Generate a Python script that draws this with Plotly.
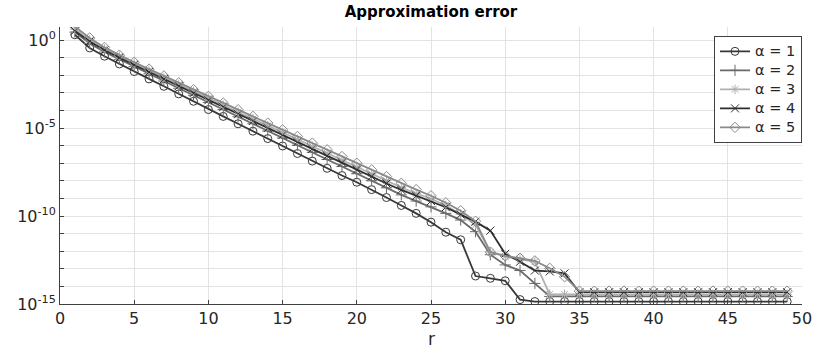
import plotly.graph_objects as go

# Truncation rank r
r = list(range(1, 50))

# log10 of the approximation error for each alpha
log10_err_a1 = [0.30, -0.45, -0.92, -1.36, -1.79, -2.21, -2.63, -3.06, -3.48, -3.95,
                -4.34, -4.76, -5.18, -5.60, -6.02, -6.45, -6.88, -7.29, -7.70, -8.08,
                -8.50, -8.95, -9.40, -9.85, -10.35, -10.92, -11.35, -13.41, -13.54, -13.68,
                -14.75] + [-14.86] * 18
log10_err_a2 = [0.45, -0.20, -0.68, -1.10, -1.51, -1.92, -2.33, -2.74, -3.14, -3.55,
                -3.95, -4.36, -4.76, -5.17, -5.57, -5.98, -6.38, -6.79, -7.19, -7.60,
                -8.00, -8.40, -8.80, -9.15, -9.48, -9.85, -10.23, -10.89, -12.20, -12.78,
                -13.10, -13.83] + [-14.57] * 17
log10_err_a3 = [0.62, 0.00, -0.50, -0.93, -1.33, -1.73, -2.13, -2.53, -2.92, -3.31,
                -3.70, -4.09, -4.48, -4.87, -5.26, -5.65, -6.04, -6.43, -6.82, -7.21,
                -7.60, -7.99, -8.38, -8.72, -9.02, -9.40, -9.90, -10.50, -12.05, -12.30,
                -12.46, -12.60] + [-14.45] * 17
log10_err_a4 = [0.52, -0.08, -0.58, -1.01, -1.42, -1.82, -2.22, -2.62, -3.02, -3.42,
                -3.81, -4.21, -4.60, -5.00, -5.39, -5.79, -6.18, -6.58, -6.97, -7.37,
                -7.76, -8.15, -8.52, -8.85, -9.15, -9.50, -9.92, -10.32, -10.83, -12.15,
                -12.60, -13.10, -13.15, -13.26] + [-14.33] * 15
log10_err_a5 = [0.76, 0.12, -0.42, -0.86, -1.26, -1.65, -2.04, -2.43, -2.82, -3.20,
                -3.58, -3.96, -4.34, -4.72, -5.10, -5.48, -5.86, -6.24, -6.62, -7.00,
                -7.38, -7.76, -8.14, -8.50, -8.85, -9.25, -9.70, -10.30, -12.05, -12.27,
                -12.40, -12.55, -12.97, -13.45] + [-14.27] * 15

series = [
    ("α = 1", log10_err_a1, "#383838", "circle-open"),
    ("α = 2", log10_err_a2, "#6a6a6a", "cross-thin-open"),
    ("α = 3", log10_err_a3, "#b0b0b0", "asterisk-open"),
    ("α = 4", log10_err_a4, "#2e2e2e", "x-thin-open"),
    ("α = 5", log10_err_a5, "#8a8a8a", "diamond-open"),
]

FONT = "DejaVu Sans"

fig = go.Figure()
for name, logs, color, symbol in series:
    fig.add_trace(go.Scatter(
        x=r, y=[10 ** v for v in logs],
        # entry text is larger than the legend's base size, which sets the row pitch
        name="<span style='font-size:14.5px'>%s</span>" % name,
        mode="lines+markers",
        line=dict(color=color, width=1.8),
        marker=dict(symbol=symbol, size=8, color=color, line=dict(color=color, width=1)),
    ))

# decade ticks, labelled every fifth decade
ydecades = list(range(0, 16))
ytickvals = [10.0 ** (-k) for k in ydecades]
yticktext = [("10<sup>%d</sup>" % (-k) if k else "10<sup>0</sup>") if k % 5 == 0 else ""
             for k in ydecades]

fig.update_layout(
    width=816, height=349,
    margin=dict(l=60, r=14, t=27, b=45),
    paper_bgcolor="white", plot_bgcolor="white",
    font=dict(family=FONT, size=16, color="#262626"),
    title=dict(text="<b>Approximation error</b>", x=0.5, xanchor="center",
               y=0.965, yanchor="middle", xref="paper",
               font=dict(family=FONT, size=15, color="#000000")),
    xaxis=dict(
        range=[0, 50], tickvals=list(range(0, 51, 5)),
        showgrid=True, gridcolor="#e3e3e3", gridwidth=1,
        showline=True, linecolor="#404040", linewidth=1,
        ticks="inside", ticklen=4, tickcolor="#404040",
        zeroline=False, mirror=False, automargin=False,
        tickfont=dict(size=16),
    ),
    yaxis=dict(
        type="log", range=[-15, 0.74],
        tickvals=ytickvals, ticktext=yticktext,
        showgrid=True, gridcolor="#e3e3e3", gridwidth=1,
        showline=True, linecolor="#404040", linewidth=1,
        ticks="inside", ticklen=4, tickcolor="#404040",
        zeroline=False, mirror=False, automargin=False,
        tickfont=dict(size=16),
    ),
    legend=dict(
        x=1.0, y=0.968, xanchor="right", yanchor="top",
        bgcolor="white", bordercolor="#404040", borderwidth=1,
        font=dict(family=FONT, size=11.5, color="#262626"),
        itemwidth=30, tracegroupgap=0,
    ),
    annotations=[dict(
        text="r", xref="paper", yref="paper", x=0.5, y=-0.125,
        xanchor="center", yanchor="middle", showarrow=False,
        font=dict(family=FONT, size=17, color="#262626"),
    )],
    showlegend=True,
)

fig.write_html("out.html")
